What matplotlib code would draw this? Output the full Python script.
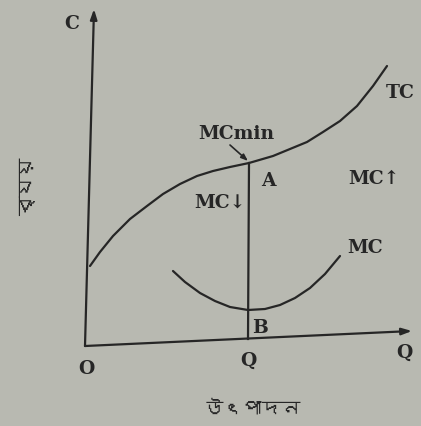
import matplotlib.pyplot as plt
from matplotlib import font_manager
from matplotlib.ft2font import FT2Font

# TC and MC curves, traced in figure pixels (x right, y down)
tc_x = [90, 100, 113, 130, 147, 163, 180, 197, 213, 230, 249, 273, 290, 307, 323, 340, 357, 373, 387]
tc_y = [267, 253, 237, 220, 207, 195, 185, 177, 172, 168, 164, 157, 150, 143, 133, 122, 107, 87, 67]
mc_x = [173, 185, 200, 215, 230, 248, 265, 280, 295, 310, 325, 340]
mc_y = [272, 283, 294, 302, 308, 311, 310, 306, 299, 289, 275, 257]

# axes ends: origin, top of cost axis, end of output axis
axis_origin = (85, 347)
axis_c_top = (94, 10)
axis_q_end = (412, 332)

# point A on TC and foot of the drop line on the Q axis
point_a = (249, 164)
point_q = (248, 340)

ink = '#262626'
paper = '#b8b9b1'


def bengali_font():
    # pick any installed face that has Bengali glyphs
    for f in font_manager.fontManager.ttflist:
        try:
            if FT2Font(f.fname).get_char_index(0x09AC):
                return f.name
        except Exception:
            pass
    return 'DejaVu Sans'


bn = bengali_font()

fig = plt.figure(figsize=(4.21, 4.27), dpi=100)
fig.patch.set_facecolor(paper)
ax = fig.add_axes([0, 0, 1, 1])
ax.set_facecolor(paper)
ax.set_xlim(0, 421)
ax.set_ylim(427, 0)
ax.axis('off')

# axes with arrow heads
arrow = dict(arrowstyle='-|>,head_length=0.6,head_width=0.2', color=ink, lw=1.6,
             shrinkA=0, shrinkB=0)
ax.annotate('', xy=axis_c_top, xytext=axis_origin, arrowprops=arrow)
ax.annotate('', xy=axis_q_end, xytext=axis_origin, arrowprops=arrow)

ax.plot(tc_x, tc_y, color=ink, lw=1.6, solid_capstyle='round', solid_joinstyle='round')
ax.plot(mc_x, mc_y, color=ink, lw=1.6, solid_capstyle='round', solid_joinstyle='round')
ax.plot([point_a[0], point_q[0]], [point_a[1], point_q[1]], color=ink, lw=1.6)

serif = dict(family='DejaVu Serif', color=ink, fontweight='bold',
             ha='center', va='center')
fs = 13.5
ax.text(72, 24, 'C', fontsize=fs, **serif)
ax.text(400, 93, 'TC', fontsize=fs, **serif)
ax.text(236, 134, 'MCmin', fontsize=fs, **serif)
ax.annotate('', xy=(248, 162), xytext=(230, 146),
            arrowprops=dict(arrowstyle='-|>,head_length=0.4,head_width=0.15',
                            color=ink, lw=1.2, shrinkA=0, shrinkB=0))
ax.text(268, 181, 'A', fontsize=fs, **serif)
ax.text(220, 203, 'MC↓', fontsize=fs, **serif)
ax.text(374, 179, 'MC↑', fontsize=fs, **serif)
ax.text(365, 248, 'MC', fontsize=fs, **serif)
ax.text(260, 328, 'B', fontsize=fs, **serif)
ax.text(86, 369, 'O', fontsize=fs, **serif)
ax.text(248, 361, 'Q', fontsize=fs, **serif)
ax.text(404, 353, 'Q', fontsize=fs, **serif)

ax.text(28, 187, 'ব্যয়', fontsize=14, rotation=90, ha='center', va='center',
        color=ink, family=[bn, 'DejaVu Sans'])
ax.text(252, 408, 'উৎপাদন', fontsize=14, ha='center', va='center',
        color=ink, family=[bn, 'DejaVu Sans'])

fig.savefig('out.png', dpi=100, facecolor=paper)
